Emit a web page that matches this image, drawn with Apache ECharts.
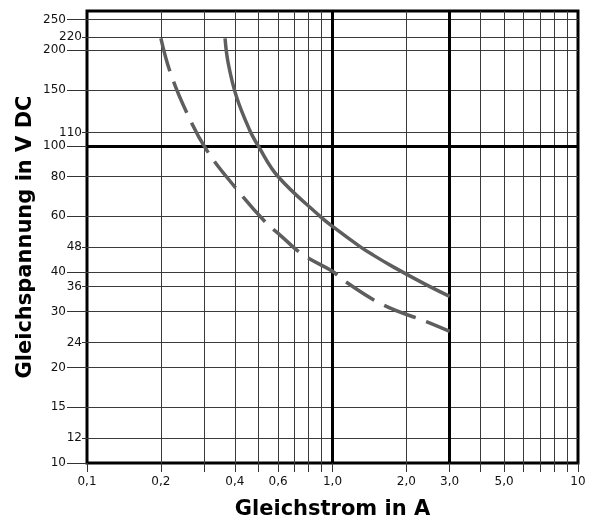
<!DOCTYPE html>
<html>
<head>
<meta charset="utf-8">
<title>Gleichspannung / Gleichstrom</title>
<script src="https://cdn.jsdelivr.net/npm/echarts@6/dist/echarts.min.js"></script>
<style>
html, body { margin: 0; padding: 0; background: #fff; }
#chart { width: 599px; height: 519px; }
</style>
</head>
<body>
<div id="chart"></div>
<script>
// Kennlinien: Strom in A / Spannung in V DC
var solidCurrent = [0.365, 0.376, 0.406, 0.46, 0.498, 0.6, 0.888, 1.0, 1.29, 1.46, 1.76, 2.34, 3.0];
var solidVoltage = [218, 182, 143, 112, 100, 80, 60, 55.7, 48.2, 45.3, 41.6, 36.9, 33.5];
var dashCurrent = [0.2, 0.218, 0.255, 0.307, 0.407, 0.538, 0.61, 0.759, 1.0, 1.1, 1.61, 2.41, 3.0];
var dashVoltage = [218, 171, 127, 97, 73, 57, 52.4, 45.3, 40.2, 37.8, 31.5, 27.9, 26.0];

// Achsen
var yTicksLong = [10, 15, 20, 30, 40, 60, 80, 100, 150, 200, 250];
var yTicksShort = [12, 24, 36, 48, 110, 220];
var xTicks = [0.1, 0.2, 0.3, 0.4, 0.5, 0.6, 0.7, 0.8, 0.9, 1, 2, 3, 4, 5, 6, 7, 8, 9, 10];
var xLabels = [0.1, 0.2, 0.4, 0.6, 1, 2, 3, 5, 10];

// Gitterlinien
var hGridThin = [12, 15, 20, 24, 30, 36, 40, 48, 60, 80, 110, 150, 200, 220, 250];
var hGridThick = [100];
var vGridThin = [0.2, 0.3, 0.4, 0.5, 0.6, 0.7, 0.8, 0.9, 2, 4, 5, 6, 7, 8, 9];
var vGridThick = [1, 3];

var font = 'DejaVu Sans';
var curveColor = '#5e5e5e';

function zip(a, b) {
    return a.map(function (v, i) { return [v, b[i]]; });
}

var gridLines = [];
hGridThin.forEach(function (v) {
    gridLines.push({ yAxis: v, lineStyle: { color: '#3a3a3a', width: 1, type: 'solid' } });
});
vGridThin.forEach(function (v) {
    gridLines.push({ xAxis: v, lineStyle: { color: '#3a3a3a', width: 1, type: 'solid' } });
});
hGridThick.forEach(function (v) {
    gridLines.push({ yAxis: v, lineStyle: { color: '#000', width: 3, type: 'solid' } });
});
vGridThick.forEach(function (v) {
    gridLines.push({ xAxis: v, lineStyle: { color: '#000', width: 3, type: 'solid' } });
});

function yAxisBase(ticks, tickLen, margin) {
    return {
        type: 'log',
        logBase: 10,
        min: 10,
        max: 266,
        position: 'left',
        offset: 0,
        axisLine: { show: false },
        splitLine: { show: false },
        minorTick: { show: false },
        axisTick: { show: true, length: tickLen, customValues: ticks, lineStyle: { color: '#333', width: 1 } },
        axisLabel: {
            customValues: ticks,
            margin: margin,
            fontFamily: font,
            fontSize: 12,
            color: '#111',
            formatter: function (v) { return String(Math.round(v)); }
        }
    };
}

var yMain = yAxisBase(yTicksLong, 20, 21);
yMain.name = 'Gleichspannung in V DC';
yMain.nameLocation = 'middle';
yMain.nameGap = 51;
yMain.nameMoveOverlap = false;
yMain.nameTextStyle = { fontFamily: font, fontWeight: 'bold', fontSize: 21, color: '#000' };
var ySecond = yAxisBase(yTicksShort, 5, 5);

var myChart = echarts.init(document.getElementById('chart'));
myChart.setOption({
    animation: false,
    grid: {
        left: 87, right: 21, top: 11, bottom: 56,
        outerBoundsMode: 'none',
        containLabel: false,
        show: true, borderColor: '#000', borderWidth: 3, backgroundColor: 'transparent'
    },
    xAxis: {
        type: 'log',
        logBase: 10,
        min: 0.1,
        max: 10,
        axisLine: { show: false },
        splitLine: { show: false },
        minorTick: { show: false },
        axisTick: { show: true, length: 9, customValues: xTicks, lineStyle: { color: '#333', width: 1 } },
        axisLabel: {
            customValues: xLabels,
            margin: 13,
            fontFamily: font,
            fontSize: 12,
            color: '#111',
            formatter: function (v) {
                if (v >= 9.99) return '10';
                return v.toFixed(1).replace('.', ',');
            }
        },
        name: 'Gleichstrom in A',
        nameLocation: 'middle',
        nameGap: 36,
        nameMoveOverlap: false,
        nameTextStyle: { fontFamily: font, fontWeight: 'bold', fontSize: 21, color: '#000' }
    },
    yAxis: [yMain, ySecond],
    series: [
        {
            name: 'gitter',
            type: 'line',
            data: [],
            z: 1,
            silent: true,
            markLine: {
                silent: true,
                symbol: ['none', 'none'],
                label: { show: false },
                animation: false,
                data: gridLines
            }
        },
        {
            name: 'durchgehend',
            type: 'line',
            z: 5,
            smooth: 0.4,
            showSymbol: false,
            lineStyle: { color: curveColor, width: 3.5, type: 'solid' },
            data: zip(solidCurrent, solidVoltage)
        },
        {
            name: 'gestrichelt',
            type: 'line',
            z: 5,
            smooth: 0.4,
            showSymbol: false,
            lineStyle: { color: curveColor, width: 3.5, type: [34, 11] },
            data: zip(dashCurrent, dashVoltage)
        }
    ]
});
</script>
</body>
</html>
